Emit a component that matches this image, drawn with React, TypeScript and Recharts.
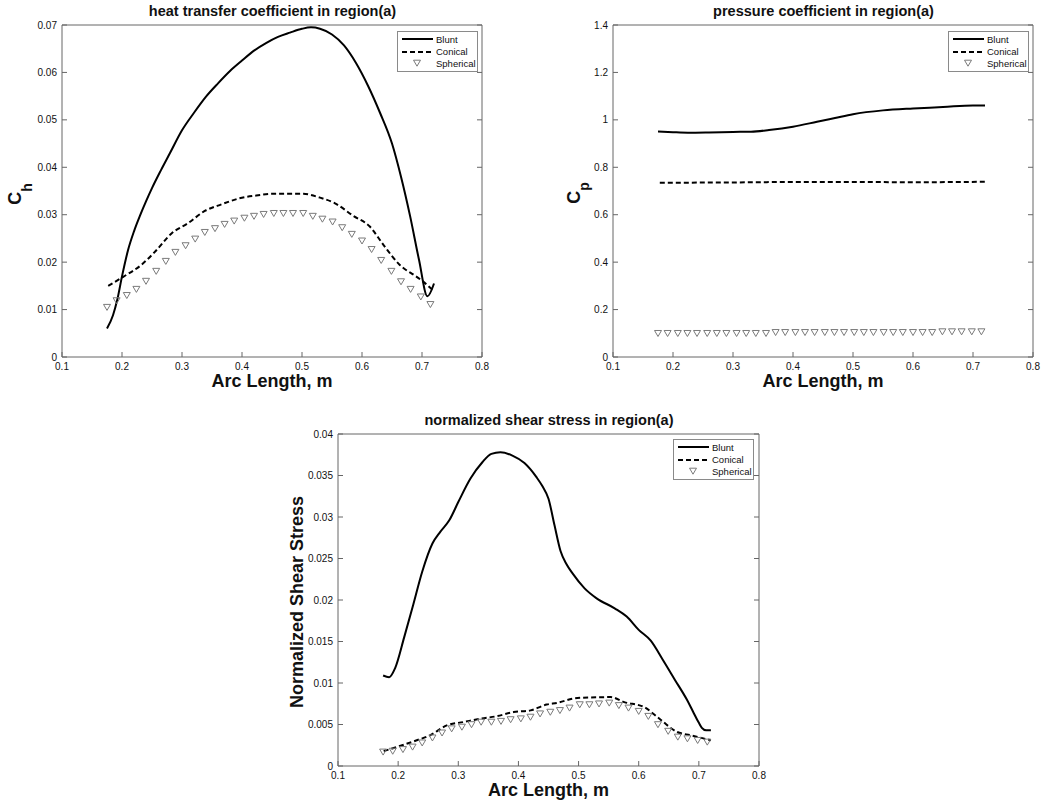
import React from 'react';
import { ComposedChart, Line, Scatter, XAxis, YAxis, Legend } from 'recharts';

const FONT = '"Liberation Sans", Arial, Helvetica, sans-serif';
const INK = '#111';
const FRAME = '#666';
const GREY = '#7a7a7a';

const seriesNames = ['Blunt', 'Conical', 'Spherical'];

// axis ticks
const arcTicks = [0.1, 0.2, 0.3, 0.4, 0.5, 0.6, 0.7, 0.8];
const heatTicks = [0, 0.01, 0.02, 0.03, 0.04, 0.05, 0.06, 0.07];
const pressureTicks = [0, 0.2, 0.4, 0.6, 0.8, 1, 1.2, 1.4];
const shearTicks = [0, 0.005, 0.01, 0.015, 0.02, 0.025, 0.03, 0.035, 0.04];

// the spherical samples all sit on the same arc positions
const sphericalArc = [
  0.175, 0.191, 0.208, 0.224, 0.24, 0.257, 0.273, 0.289, 0.306, 0.322, 0.338, 0.355,
  0.371, 0.387, 0.404, 0.42, 0.436, 0.453, 0.469, 0.485, 0.502, 0.518, 0.534, 0.551,
  0.567, 0.583, 0.6, 0.616, 0.632, 0.649, 0.665, 0.681, 0.698, 0.714,
];

// heat transfer coefficient
const heatBluntArc = [
  0.175, 0.185, 0.192, 0.2, 0.21, 0.22, 0.23, 0.24, 0.25, 0.265, 0.28, 0.3, 0.32, 0.34,
  0.36, 0.38, 0.4, 0.42, 0.44, 0.46, 0.48, 0.5, 0.515, 0.53, 0.55, 0.57, 0.59, 0.61,
  0.63, 0.65, 0.665, 0.68, 0.695, 0.709, 0.72,
];
const heatBlunt = [
  0.006, 0.0088, 0.012, 0.017, 0.0225, 0.0265, 0.0298, 0.0328, 0.0356, 0.0394, 0.043,
  0.0478, 0.0515, 0.0549, 0.0577, 0.0603, 0.0625, 0.0646, 0.0662, 0.0675, 0.0684,
  0.0692, 0.0695, 0.0692, 0.068, 0.0657, 0.062, 0.0572, 0.0515, 0.045, 0.038, 0.0298,
  0.0205, 0.0128, 0.0155,
];
const heatConicalArc = [
  0.177, 0.202, 0.232, 0.255, 0.283, 0.31, 0.338, 0.366, 0.394, 0.427, 0.45, 0.502,
  0.53, 0.555, 0.585, 0.613, 0.636, 0.663, 0.69, 0.702, 0.719,
];
const heatConical = [
  0.015, 0.0169, 0.0194, 0.0222, 0.0261, 0.0282, 0.0308, 0.0322, 0.0334, 0.0341, 0.0344,
  0.0344, 0.0336, 0.0324, 0.0298, 0.0275, 0.0236, 0.0194, 0.017, 0.0159, 0.014,
];
const heatSpherical = [
  0.0105, 0.0119, 0.013, 0.0143, 0.016, 0.0181, 0.0202, 0.0221, 0.0235, 0.0249, 0.0263,
  0.0271, 0.028, 0.0287, 0.0293, 0.0297, 0.0301, 0.0303, 0.0303, 0.0303, 0.0303, 0.0297,
  0.0291, 0.0285, 0.0273, 0.0259, 0.0245, 0.0227, 0.0204, 0.0181, 0.0159, 0.0143,
  0.0127, 0.0111,
];

// pressure coefficient
const pressureBluntArc = [
  0.175, 0.2, 0.225, 0.26, 0.3, 0.33, 0.36, 0.4, 0.44, 0.47, 0.5, 0.55, 0.6, 0.65, 0.7, 0.72,
];
const pressureBlunt = [
  0.951, 0.948, 0.946, 0.947, 0.949, 0.95, 0.957, 0.971, 0.992, 1.008, 1.024, 1.04,
  1.048, 1.054, 1.061, 1.061,
];
const pressureConicalArc = [0.178, 0.3, 0.4, 0.5, 0.6, 0.72];
const pressureConical = [0.735, 0.736, 0.738, 0.738, 0.737, 0.739];
const pressureSpherical = [
  0.1, 0.1, 0.1, 0.1, 0.1, 0.1, 0.1, 0.1, 0.1, 0.1, 0.1, 0.1, 0.104, 0.104, 0.104, 0.104,
  0.104, 0.104, 0.104, 0.104, 0.104, 0.104, 0.104, 0.104, 0.104, 0.104, 0.104, 0.104,
  0.104, 0.107, 0.107, 0.107, 0.107, 0.107,
];

// normalized shear stress
const shearBluntArc = [
  0.175, 0.185, 0.195, 0.21, 0.225, 0.24, 0.257, 0.27, 0.285, 0.3, 0.32, 0.34, 0.355,
  0.37, 0.39, 0.41, 0.43, 0.44, 0.45, 0.46, 0.47, 0.48, 0.49, 0.51, 0.53, 0.56, 0.58,
  0.6, 0.62, 0.64, 0.66, 0.68, 0.69, 0.7, 0.705, 0.712, 0.72,
];
const shearBlunt = [
  0.0109, 0.0107, 0.0118, 0.0155, 0.0194, 0.0234, 0.0268, 0.0282, 0.0296, 0.0318,
  0.0346, 0.0366, 0.0376, 0.0378, 0.0374, 0.0365, 0.0348, 0.0337, 0.0322, 0.029,
  0.0259, 0.0243, 0.0232, 0.0214, 0.0202, 0.019, 0.018, 0.0164, 0.0151, 0.0128, 0.0104,
  0.008, 0.0066, 0.0052, 0.0046, 0.0043, 0.0043,
];
const shearConicalArc = [
  0.176, 0.198, 0.231, 0.253, 0.281, 0.309, 0.337, 0.364, 0.392, 0.42, 0.447, 0.464,
  0.498, 0.553, 0.576, 0.609, 0.631, 0.664, 0.687, 0.72,
];
const shearConical = [
  0.0018, 0.0023, 0.0031, 0.0037, 0.0049, 0.0053, 0.0057, 0.006, 0.0065, 0.0067, 0.0074,
  0.0076, 0.0082, 0.0083, 0.0077, 0.0071, 0.0059, 0.0041, 0.0037, 0.0031,
];
const shearSpherical = [
  0.0017, 0.0018, 0.002, 0.0023, 0.0028, 0.0034, 0.004, 0.0045, 0.0047, 0.005, 0.0053,
  0.0053, 0.0054, 0.0056, 0.0057, 0.0059, 0.0063, 0.0065, 0.0067, 0.007, 0.0074, 0.0074,
  0.0075, 0.0076, 0.0073, 0.007, 0.0066, 0.006, 0.005, 0.0042, 0.0035, 0.0033, 0.0031,
  0.0029,
];

type Pt = { x: number; y: number };
const zip = (xs: number[], ys: number[]): Pt[] => xs.map((x, i) => ({ x, y: ys[i] }));

const tickFont = { fontFamily: FONT, fontSize: 10, fill: INK };

// MATLAB style: ticks point into the plot box
const BottomTick = ({ x, y, payload }: any) => (
  <g>
    <line x1={x} x2={x} y1={y} y2={y - 5} stroke={FRAME} />
    <text x={x} y={y + 12.5} textAnchor="middle" {...tickFont}>
      {String(payload.value)}
    </text>
  </g>
);
const TopTick = ({ x, y }: any) => <line x1={x} x2={x} y1={y} y2={y + 5} stroke={FRAME} />;
const LeftTick = ({ x, y, payload }: any) => (
  <g>
    <line x1={x} x2={x + 5} y1={y} y2={y} stroke={FRAME} />
    <text x={x - 5} y={y + 3.5} textAnchor="end" {...tickFont}>
      {String(payload.value)}
    </text>
  </g>
);
const RightTick = ({ x, y }: any) => <line x1={x} x2={x - 5} y1={y} y2={y} stroke={FRAME} />;

const Triangle = ({ cx, cy }: any) => (
  <polygon
    points={`${cx - 3.5},${cy - 2.8} ${cx + 3.5},${cy - 2.8} ${cx},${cy + 3.2}`}
    fill="none"
    stroke={GREY}
    strokeWidth={1}
  />
);

const LegendBox = () => (
  <svg width={81} height={41} style={{ display: 'block' }}>
    <rect x={0.5} y={0.5} width={80} height={40} fill="#fff" stroke="#8a8a8a" />
    <line x1={5} x2={36} y1={8} y2={8} stroke="#000" strokeWidth={2} />
    <line x1={5} x2={36} y1={21} y2={21} stroke="#000" strokeWidth={2} strokeDasharray="5 3" />
    <Triangle cx={20} cy={32} />
    {seriesNames.map((name, i) => (
      <text key={name} x={39} y={11.5 + i * 12} fontFamily={FONT} fontSize={9.5} fill={INK}>
        {name}
      </text>
    ))}
  </svg>
);

interface PanelProps {
  left: number;
  top: number;
  width: number;
  height: number;
  margin: { top: number; right: number; bottom: number; left: number };
  yAxisWidth: number;
  xAxisHeight: number;
  title: string;
  yTicks: number[];
  yLabel: (vb: any) => React.ReactElement;
  legendAt: { left: number; top: number };
  blunt: Pt[];
  conical: Pt[];
  spherical: Pt[];
}

const Panel: React.FC<PanelProps> = (p) => {
  const yDomain = [p.yTicks[0], p.yTicks[p.yTicks.length - 1]];
  const plotLeft = p.margin.left + p.yAxisWidth;
  const plotWidth = p.width - plotLeft - p.margin.right;
  return (
    <div style={{ position: 'absolute', left: p.left, top: p.top }}>
      <svg
        width={p.width}
        height={p.margin.top}
        style={{ position: 'absolute', left: 0, top: 0, pointerEvents: 'none' }}
      >
        <text
          x={plotLeft + plotWidth / 2}
          y={p.margin.top - 8}
          textAnchor="middle"
          fontFamily={FONT}
          fontWeight="bold"
          fontSize={14.5}
          fill={INK}
        >
          {p.title}
        </text>
      </svg>
      <ComposedChart width={p.width} height={p.height} margin={p.margin}>
        <XAxis
          dataKey="x"
          type="number"
          domain={[0.1, 0.8]}
          allowDataOverflow
          ticks={arcTicks}
          interval={0}
          height={p.xAxisHeight}
          tickSize={0}
          tickMargin={0}
          tickLine={false}
          tick={BottomTick}
          axisLine={{ stroke: FRAME }}
          label={(lp: any) => {
            const vb = lp.viewBox;
            return (
              <text
                x={vb.x + vb.width / 2}
                y={vb.y + 30}
                textAnchor="middle"
                fontFamily={FONT}
                fontWeight="bold"
                fontSize={18}
                fill={INK}
              >
                Arc Length, m
              </text>
            );
          }}
        />
        <XAxis
          xAxisId="top"
          orientation="top"
          type="number"
          domain={[0.1, 0.8]}
          allowDataOverflow
          ticks={arcTicks}
          interval={0}
          height={1}
          tickSize={0}
          tickMargin={0}
          tickLine={false}
          tick={TopTick}
          axisLine={{ stroke: FRAME }}
        />
        <YAxis
          dataKey="y"
          type="number"
          domain={yDomain}
          allowDataOverflow
          ticks={p.yTicks}
          interval={0}
          width={p.yAxisWidth}
          tickSize={0}
          tickMargin={0}
          tickLine={false}
          tick={LeftTick}
          axisLine={{ stroke: FRAME }}
          label={(lp: any) => p.yLabel(lp.viewBox)}
        />
        <YAxis
          yAxisId="right"
          orientation="right"
          type="number"
          domain={yDomain}
          allowDataOverflow
          ticks={p.yTicks}
          interval={0}
          width={1}
          tickSize={0}
          tickMargin={0}
          tickLine={false}
          tick={RightTick}
          axisLine={{ stroke: FRAME }}
        />
        <Legend
          layout="horizontal"
          verticalAlign="middle"
          align="center"
          content={() => <LegendBox />}
          wrapperStyle={{ left: p.legendAt.left, top: p.legendAt.top, width: 81, height: 41 }}
        />
        <Line
          name="Blunt"
          data={p.blunt}
          dataKey="y"
          type="monotone"
          stroke="#000"
          strokeWidth={2}
          dot={false}
          activeDot={false}
          isAnimationActive={false}
        />
        <Line
          name="Conical"
          data={p.conical}
          dataKey="y"
          type="monotone"
          stroke="#000"
          strokeWidth={2}
          strokeDasharray="5 3"
          dot={false}
          activeDot={false}
          isAnimationActive={false}
        />
        <Scatter
          name="Spherical"
          data={p.spherical}
          dataKey="y"
          shape={(sp: any) => <Triangle cx={sp.cx} cy={sp.cy} />}
          isAnimationActive={false}
        />
      </ComposedChart>
    </div>
  );
};

const yText = { fontFamily: FONT, fontWeight: 'bold' as const, fill: INK };

export default function App() {
  return (
    <div
      style={{
        position: 'absolute',
        left: 0,
        top: 0,
        width: 1043,
        height: 805,
        background: '#fff',
        overflow: 'hidden',
      }}
    >
      <Panel
        left={0}
        top={0}
        width={500}
        height={400}
        margin={{ top: 24, right: 17, bottom: 0, left: 0 }}
        yAxisWidth={62}
        xAxisHeight={43}
        title="heat transfer coefficient in region(a)"
        yTicks={heatTicks}
        legendAt={{ left: 397, top: 31 }}
        yLabel={(vb) => (
          <text
            transform={`translate(${vb.x + 21},${vb.y + vb.height / 2 + 3}) rotate(-90)`}
            textAnchor="middle"
            fontSize={18}
            {...yText}
          >
            C
            <tspan fontSize={14} dy={11}>
              h
            </tspan>
          </text>
        )}
        blunt={zip(heatBluntArc, heatBlunt)}
        conical={zip(heatConicalArc, heatConical)}
        spherical={zip(sphericalArc, heatSpherical)}
      />
      <Panel
        left={520}
        top={0}
        width={523}
        height={400}
        margin={{ top: 24, right: 9, bottom: 0, left: 0 }}
        yAxisWidth={93}
        xAxisHeight={43}
        title="pressure coefficient in region(a)"
        yTicks={pressureTicks}
        legendAt={{ left: 428, top: 31 }}
        yLabel={(vb) => (
          <text
            transform={`translate(${vb.x + 60},${vb.y + vb.height / 2 + 2}) rotate(-90)`}
            textAnchor="middle"
            fontSize={18}
            {...yText}
          >
            C
            <tspan fontSize={14} dy={9}>
              p
            </tspan>
          </text>
        )}
        blunt={zip(pressureBluntArc, pressureBlunt)}
        conical={zip(pressureConicalArc, pressureConical)}
        spherical={zip(sphericalArc, pressureSpherical)}
      />
      <Panel
        left={270}
        top={400}
        width={500}
        height={405}
        margin={{ top: 33, right: 10, bottom: 0, left: 0 }}
        yAxisWidth={68}
        xAxisHeight={39}
        title="normalized shear stress in region(a)"
        yTicks={shearTicks}
        legendAt={{ left: 403, top: 39 }}
        yLabel={(vb) => (
          <text
            transform={`translate(${vb.x + 33},${vb.y + vb.height / 2 + 2}) rotate(-90)`}
            textAnchor="middle"
            fontSize={18}
            {...yText}
          >
            Normalized Shear Stress
          </text>
        )}
        blunt={zip(shearBluntArc, shearBlunt)}
        conical={zip(shearConicalArc, shearConical)}
        spherical={zip(sphericalArc, shearSpherical)}
      />
    </div>
  );
}
